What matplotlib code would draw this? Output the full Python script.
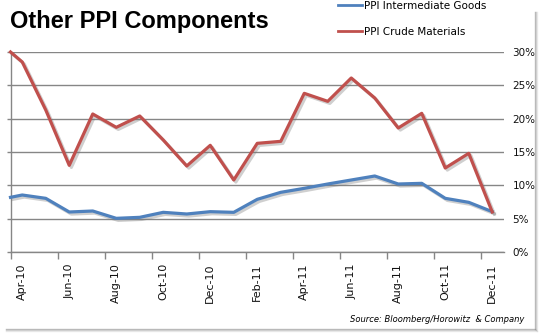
import matplotlib.pyplot as plt
import matplotlib.patheffects as pe
from matplotlib.lines import Line2D

# month offsets from Apr-10 (first point sits half a month before)
month_pos = [-0.5] + list(range(21))
intermediate = [8.2, 8.55, 8.05, 6.0, 6.15, 5.05, 5.2, 5.95, 5.7, 6.05, 5.95,
                7.9, 8.95, 9.55, 10.2, 10.8, 11.4, 10.2, 10.3, 8.05, 7.45, 6.05]
crude = [30.0, 28.5, 21.3, 13.0, 20.7, 18.7, 20.4, 16.8, 12.9, 16.0, 10.8,
         16.3, 16.6, 23.8, 22.6, 26.1, 23.1, 18.6, 20.8, 12.6, 14.8, 6.0]
tick_labels = ['Apr-10', 'Jun-10', 'Aug-10', 'Oct-10', 'Dec-10', 'Feb-11',
               'Apr-11', 'Jun-11', 'Aug-11', 'Oct-11', 'Dec-11']
y_ticks = [0, 5, 10, 15, 20, 25, 30]

blue = '#4F81BD'
red = '#C0504D'
grid = '#868686'

fig = plt.figure(figsize=(5.44, 3.35), dpi=100)
ax = fig.add_axes([10.5 / 544, 83 / 335, 493.5 / 544, 200 / 335])

shadow = [pe.SimpleLineShadow(offset=(1.5, -1.5), shadow_color='#777777', alpha=0.35),
          pe.Normal()]
ax.plot(month_pos, intermediate, color=blue, lw=2.3, clip_on=False,
        path_effects=shadow, zorder=3)
ax.plot(month_pos, crude, color=red, lw=2.3, clip_on=False,
        path_effects=shadow, zorder=4)

ax.set_xlim(-0.5, 20.5)
ax.set_ylim(0, 30)

# y axis: gridlines, labels on the right, small ticks on the left
ax.set_yticks(y_ticks)
ax.set_yticklabels([f'{v}%' for v in y_ticks])
ax.yaxis.grid(True, color=grid, lw=1)
ax.tick_params(axis='y', left=True, right=False, labelleft=False, labelright=True,
               length=3, width=1, color=grid, pad=3, labelsize=7.5, labelcolor='#111111')

# x axis: ticks between pairs of months, labels at the months
ax.set_xticks([p - 0.5 for p in range(0, 21, 2)])
ax.set_xticklabels([])
ax.set_xticks(list(range(0, 21, 2)), minor=True)
ax.set_xticklabels(tick_labels, minor=True, rotation=90, va='top', ha='center')
ax.tick_params(axis='x', which='major', length=5, width=1, color=grid, direction='out')
ax.tick_params(axis='x', which='minor', length=0, pad=8, labelsize=8, labelcolor='#111111')

for s in ['top', 'right']:
    ax.spines[s].set_visible(False)
for s in ['left', 'bottom']:
    ax.spines[s].set_color(grid)
    ax.spines[s].set_linewidth(1)

fig.text(10 / 544, 1 - 21.6 / 335, 'Other PPI Components', fontsize=17,
         fontweight='bold', va='center', ha='left', family='Liberation Sans')

handles = [Line2D([], [], color=blue, lw=2), Line2D([], [], color=red, lw=2)]
fig.legend(handles, ['PPI Intermediate Goods', 'PPI Crude Materials'],
           loc='upper left', bbox_to_anchor=(338 / 544, 1 - 1 / 335), frameon=False,
           fontsize=7.5, handlelength=2.3, handletextpad=0.15, labelspacing=1.55,
           borderaxespad=0, borderpad=0)

fig.text(524 / 544, 1 - 319.5 / 335, 'Source: Bloomberg/Horowitz  & Company',
         fontsize=6, style='italic', ha='right', va='center')

# drop shadow of the chart frame (right and bottom)
for i, a in enumerate([0.55, 0.3, 0.15]):
    fig.add_artist(Line2D([(535 + i) / 544] * 2, [1 - 12 / 335, 1 - (329 + i) / 335],
                          color='#888888', alpha=a, lw=1))
    fig.add_artist(Line2D([6 / 544, (535 + i) / 544], [1 - (329 + i) / 335] * 2,
                          color='#888888', alpha=a, lw=1))

fig.savefig('out.png', dpi=100)
